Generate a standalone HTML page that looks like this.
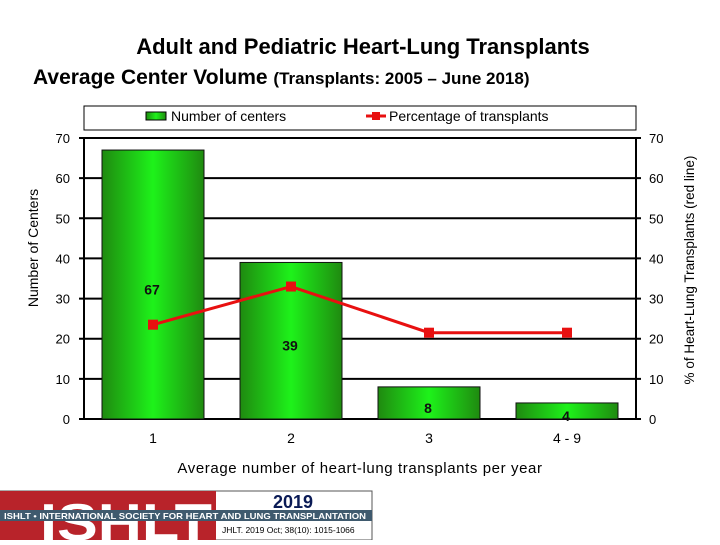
<!DOCTYPE html>
<html><head><meta charset="utf-8"><style>
body{margin:0;width:720px;height:540px;background:#fff;overflow:hidden;font-family:"Liberation Sans",sans-serif;}
</style></head><body>
<svg width="720" height="540" xmlns="http://www.w3.org/2000/svg" font-family="Liberation Sans, sans-serif">
<defs>
<linearGradient id="g" x1="0" x2="1" y1="0" y2="0">
<stop offset="0" stop-color="#1f8a10"/><stop offset="0.5" stop-color="#1ef21a"/><stop offset="1" stop-color="#1f8a10"/>
</linearGradient>
<clipPath id="redclip"><rect x="0" y="491" width="216" height="49"/></clipPath>
</defs>
<text x="363" y="54" font-size="22" font-weight="bold" text-anchor="middle" fill="#000">Adult and Pediatric Heart-Lung Transplants</text>
<text x="33" y="84" font-size="21" font-weight="bold" fill="#000">Average Center Volume <tspan font-size="17">(Transplants: 2005 – June 2018)</tspan></text>
<g>
<rect x="84" y="106" width="552" height="24" fill="#fff" stroke="#000" stroke-width="1"/>
<rect x="146" y="112" width="20" height="8" fill="url(#g)" stroke="#000" stroke-width="1"/>
<text x="171" y="121" font-size="14">Number of centers</text>
<line x1="366" y1="116" x2="386" y2="116" stroke="#e81010" stroke-width="3"/>
<rect x="372" y="112" width="8" height="8" fill="#e81010"/>
<text x="389" y="121" font-size="14">Percentage of transplants</text>
</g>
<g id="grid"></g>
<g id="bars"></g>
<g id="line"></g>
<text transform="translate(38,248) rotate(-90)" font-size="14" text-anchor="middle">Number of Centers</text>
<text transform="translate(694,270) rotate(-90)" font-size="13.5" text-anchor="middle">% of Heart-Lung Transplants (red line)</text>
<text x="360" y="473" font-size="15" text-anchor="middle" letter-spacing="0.6">Average number of heart-lung transplants per year</text>
<g>
<rect x="0" y="491" width="372" height="49" fill="#fff" stroke="#555" stroke-width="1"/>
<rect x="0" y="491" width="216" height="49" fill="#b8232a"/>
<text x="40" y="540" font-size="52" font-weight="bold" fill="#fff" clip-path="url(#redclip)" textLength="172" lengthAdjust="spacingAndGlyphs">ISHLT</text>
<rect x="0" y="510" width="372" height="11" fill="#3f5a6e"/>
<text x="4" y="519" font-size="8.5" font-weight="bold" fill="#fff" textLength="362" lengthAdjust="spacingAndGlyphs">ISHLT • INTERNATIONAL SOCIETY FOR HEART AND LUNG TRANSPLANTATION</text>
<text x="293" y="508" font-size="18" font-weight="bold" fill="#0a1a55" text-anchor="middle">2019</text>
<text x="222" y="533" font-size="8.5" fill="#000">JHLT. 2019 Oct; 38(10): 1015-1066</text>
</g>
</svg>
<script>
const categories=["1","2","3","4 - 9"];
const centers=[67,39,8,4];
const percents=[23.5,33,21.5,21.5];
const yTicks=[0,10,20,30,40,50,60,70];
const ns="http://www.w3.org/2000/svg";
const X0=84,X1=636,Y0=419,Y70=138;
const y=v=>Y0-(Y0-Y70)*v/70;
const bw=(X1-X0)/categories.length;
const xc=i=>X0+bw*(i+0.5);
function mk(t,a,p){const e=document.createElementNS(ns,t);for(const k in a)e.setAttribute(k,a[k]);p.appendChild(e);return e;}
const grid=document.getElementById('grid'),bars=document.getElementById('bars'),line=document.getElementById('line');
yTicks.forEach(v=>{
 const l=mk('line',{x1:X0-5,x2:X1+5,y1:y(v),y2:y(v),stroke:'#000','stroke-width':2},grid);
 
 
 const t=mk('text',{x:70,y:y(v)+5,'font-size':13,'text-anchor':'end'},grid);t.textContent=v;
 
 
 const t2=mk('text',{x:649,y:y(v)+5,'font-size':13},grid);t2.textContent=v;
 
 
});
mk('line',{x1:X0,x2:X0,y1:Y70,y2:Y0,stroke:'#000','stroke-width':2},grid);
mk('line',{x1:X1,x2:X1,y1:Y70,y2:Y0,stroke:'#000','stroke-width':2},grid);
categories.forEach((c,i)=>{
 const w=102;
 const r=mk('rect',{x:xc(i)-w/2,y:y(centers[i]),width:w,height:Y0-y(centers[i]),fill:'url(#g)',stroke:'#111','stroke-width':1},bars);
 
 
 const lb=mk('text',{x:xc(i)-1,y:y(centers[i]/2)+10,'font-size':14,'font-weight':'bold','text-anchor':'middle',fill:'#111'},bars);
 lb.textContent=centers[i];
 
 
 const tk=mk('text',{x:xc(i),y:443,'font-size':14,'text-anchor':'middle'},bars);tk.textContent=c;
 
 
});
const pl=mk('polyline',{points:percents.map((p,i)=>xc(i)+','+y(p)).join(' '),fill:'none',stroke:'#e81010','stroke-width':3},line);


percents.forEach((p,i)=>{
 const m=mk('rect',{x:xc(i)-5,y:y(p)-5,width:10,height:10,fill:'#e81010'},line);
 
 
});
</script>
</body></html>
